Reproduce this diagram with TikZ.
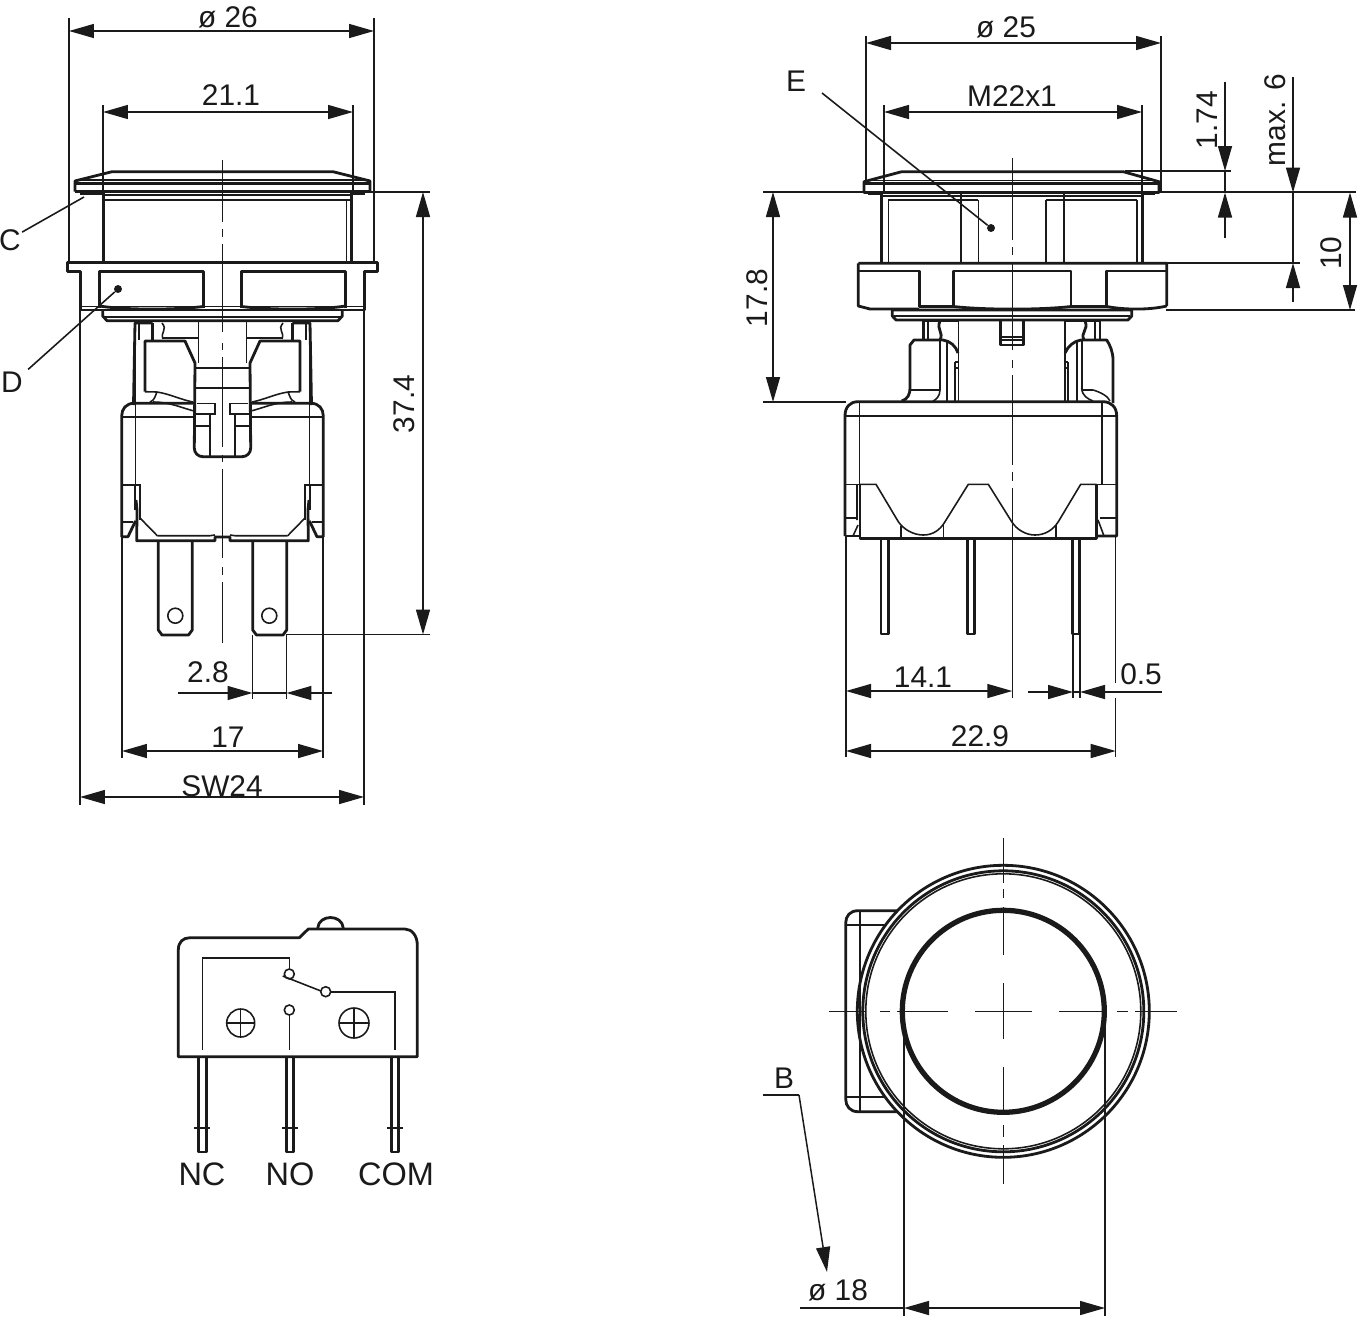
\documentclass[tikz,border=0pt]{standalone}
\usepackage{fontspec}
\setmainfont{Liberation Sans}
\usepackage{xcolor}
\usetikzlibrary{arrows.meta}
\definecolor{ink}{HTML}{1A1A1A}
\tikzset{
  base/.style={draw=ink, line width=1.6pt, line join=round},
  fine/.style={draw=ink, line width=0.9pt},
  heavy/.style={draw=ink, line width=3pt},
  ext/.style={draw=ink, line width=0.85pt},
  dim/.style={draw=ink, line width=0.85pt, {Triangle[length=0.5cm,width=0.28cm]}-{Triangle[length=0.5cm,width=0.28cm]}},
  tip/.style={draw=ink, line width=0.85pt, -{Triangle[length=0.5cm,width=0.28cm]}},
  lab/.style={text=ink, font=\fontsize{17}{19}\selectfont, inner sep=0pt},
  labv/.style={lab, rotate=90},
  labt/.style={text=ink, font=\fontsize{18.5}{20}\selectfont, inner sep=0pt},
  dot/.style={circle, fill=ink, inner sep=1.6pt},
}
% half of the side view, mirrored about its axis
\newcommand{\sidehalf}{
  \draw[base] (75,191.5)--(75,181)--(112,171.7)--(222.5,171.7);
  \draw[fine] (80,180)--(222.5,180);
  \draw[base] (75,183.5)--(222.5,183.5);
  \draw[base] (75,191.5)--(222.5,191.5);
  \draw[base] (222.5,262.7)--(67.3,262.7)--(67.3,271.7)--(80.7,271.7)--(80.7,310)--(222.5,310);
  \draw[base] (99.3,308)--(99.3,271.5)--(203.3,271.5)--(203.3,308);
  \draw[fine] (80.7,306.7)--(222.5,306.7);
  \draw[base] (99.3,306) .. controls (125,310) and (175,310) .. (203.3,306.5);
  \draw[base] (102.7,311)--(102.7,316)--(107,320.7)--(222.5,320.7);
  \draw[fine] (105,316.7)--(222.5,316.7);
  \draw[base] (133.5,405)--(135,323)--(152.7,323);
  \draw[base] (152.7,323)--(152.7,340);
  \draw[fine] (139,323)--(139,340);
  \draw[fine] (162,323) .. controls (168,330) and (160,332) .. (163,339);
  \draw[base] (163,338)--(198.3,338);
  \draw[fine] (198.3,322)--(198.3,363);
  \draw[base] (145,391.7)--(145,341)--(185,341)--(195,363)--(194.3,448)
     .. controls (194.3,453) and (198,456.7) .. (203,456.7)--(222.5,456.7);
  \draw[fine] (195,368)--(222.5,368) (195,388)--(222.5,388);
  \draw[fine] (145,391.7) -- (157,392) .. controls (170,394) and (182,400) .. (193,402);
  \draw[fine] (153,402) .. controls (170,402) and (182,408) .. (193,410.7);
  \draw[fine] (157,392) .. controls (155,396) and (155,400) .. (150,402);
  \draw[base] (121.7,537)--(121.7,416) .. controls (121.7,409) and (126,403.3) .. (134,403.3)--(194,403.3);
  \draw[fine] (121.7,416.7)--(194,416.7);
  \draw[fine] (197,403.3)--(215,403.3)--(215,414)--(195,414);
  \draw[fine] (210,414)--(210,456) (195,426)--(210,426);
  \draw[fine] (135.7,323)--(135.7,485);
  \draw[fine] (121.7,485)--(140,485)--(140,520) (135,485)--(135,510) (121.7,521.7)--(133,521.7);
  \draw[base] (136,500)--(137,510)--(136.7,540.7)--(215,540.7)--(215,537)--(222.5,537);
  \draw[base] (135.5,521)--(128,536.7)--(121.7,536.7);
  \draw[fine] (140,518)--(157.3,535.7);
  \draw[fine] (157.3,535.7)--(210,535.7)--(215,535);
}
\begin{document}
\begin{tikzpicture}[x=0.02cm,y=-0.02cm]
  \useasboundingbox (0,0) rectangle (1369,1326);
  % side view
  \sidehalf
  \begin{scope}[shift={(445,0)},xscale=-1]
    \sidehalf
  \end{scope}
  \draw[heavy,line width=2.2pt] (80,193)--(103,193) (351.7,193)--(365,193);
  \draw[fine] (103,195)--(351.7,195) (103,200)--(351.7,200);
  \draw[base] (103.3,192)--(103.3,262.7) (351.7,192)--(351.7,262.7);
  \draw[fine] (346.7,200)--(346.7,262.7);
  \foreach \a/\b in {160/222,229/237,244/332,343/350,357/447,455/462,469/558,567/575,582/643}
    \draw[fine] (222.3,\a)--(222.3,\b);
  \draw[base] (158.3,541)--(158.3,630)--(162,635)--(188.5,635)--(192.3,630)--(192.3,541);
  \draw[base] (252.7,541)--(252.7,630)--(256.5,635)--(283,635)--(286.7,630)--(286.7,541);
  \draw[fine] (175.3,615.7) circle (7.5) (269.3,615.7) circle (7.5);
  % side view dimensions
  \draw[ext] (69,18)--(69,262) (374,18)--(374,262);
  \draw[ext] (103,105)--(103,192) (353,105)--(353,192);
  \draw[ext] (80,272)--(80,805) (364,272)--(364,805);
  \draw[ext] (122,537)--(122,758) (323,537)--(323,758);
  \draw[ext] (252.5,635)--(252.5,699) (286.5,635)--(286.5,699);
  \draw[ext] (351,192)--(430,192) (286,634.5)--(430,634.5);
  \draw[dim] (69,31)--(374,31);
  \draw[dim] (103,112)--(353,112);
  \draw[dim] (80,797)--(364,797);
  \draw[dim] (122,751)--(323,751);
  \draw[dim] (423,192)--(423,634.5);
  \draw[tip] (178,693)--(252.5,693);
  \draw[tip] (332,693)--(286.5,693);
  \draw[ext] (252.5,693)--(286.5,693);
  \node[lab] (d26) at (228,17) {ø 26};
  \node[lab] (d211) at (231,95) {21.1};
  \node[lab] (dSW) at (222,786) {SW24};
  \node[lab] (d17) at (228,737) {17};
  \node[lab] (d28) at (208,672) {2.8};
  \node[labv] (d374) at (404,404) {37.4};
  \node[lab] (labC) at (10,240) {C};
  \node[lab] (labD) at (12,382) {D};
  \node[dot] (ptD) at (118,289) {};
  \coordinate (ptC) at (84,197);
  \draw[fine] (labC.north east)++(1,3) -- (ptC);
  \draw[fine] (labD.north east)++(5,-2) -- (ptD);
  % end view
  \draw[base] (1003.3,1011.3) circle (146);
  \draw[base] (1003.3,1011.3) circle (140.5);
  \draw[fine] (1003.3,1011.3) circle (137.5);
  \draw[heavy] (1003.3,1011.3) circle (101);
  \draw[base] (897.5,910.7)--(858,910.7) .. controls (850,910.7) and (845.7,916) .. (845.7,923)
     --(845.7,1099) .. controls (845.7,1106) and (850,1111.7) .. (858,1111.7)--(897.5,1111.7);
  \draw[fine] (860,910.7)--(860,1111.7) (845.7,925)--(885,925) (845.7,1097)--(885,1097);
  \foreach \a/\b in {829/865,880/890,897/948,975/1032,1059/1107,1117/1128,1135/1177}
    \draw[fine] (\a,1011.3)--(\b,1011.3);
  \foreach \a/\b in {838/883,889/898,907/955,983/1039,1067/1115,1125/1137,1145/1184}
    \draw[fine] (1003.3,\a)--(1003.3,\b);
  \draw[ext] (904,1012)--(904,1316) (1105,1012)--(1105,1316);
  \draw[ext] (800,1308)--(904,1308);
  \draw[dim] (904,1308)--(1105,1308);
  \node[lab] (d18) at (838,1290) {ø 18};
  \node[lab] (labB) at (784,1078) {B};
  \coordinate (bendB) at (799,1095);
  \coordinate (ptB) at (827,1272);
  \draw[ext] (763,1095)--(bendB);
  \draw[tip] (bendB)--(ptB);
  % switch symbol
  \draw[base] (178.3,1056.7)--(178.3,950) .. controls (178.3,942) and (183,937.7) .. (190,937.7)
     --(299.3,937.7)--(308.3,929)--(405,929) .. controls (412,929) and (417.3,936) .. (417.3,945)
     --(417.3,1056.7)--cycle;
  \draw[base] (317.7,928) .. controls (319,914) and (342,914) .. (343.3,928);
  \draw[fine] (202.3,1050)--(202.3,957.7)--(289.3,957.7)--(289.3,969);
  \draw[fine] (282.7,976)--(321,991);
  \draw[fine] (330.7,991.7)--(395,991.7)--(395,1050);
  \draw[fine] (289.3,1015)--(289.3,1050);
  \draw[fine] (289.3,974) circle (5) (325.7,991.7) circle (5) (289.3,1010) circle (5);
  \foreach \cx/\rr in {240.7/14, 354/15}{
    \draw[fine] (\cx,1023) circle (\rr);
    \draw[fine] (\cx-\rr,1023)--(\cx+\rr,1023) (\cx,1023-\rr)--(\cx,1023+\rr);
  }
  \foreach \cx in {202.3,290,395}{
    \draw[base] (\cx-3.8,1057)--(\cx-3.8,1152)--(\cx+3.8,1152)--(\cx+3.8,1057);
    \draw[fine] (\cx-8,1127.7)--(\cx+8,1127.7);
  }
  \node[labt] (labNC) at (202,1174) {NC};
  \node[labt] (labNO) at (290,1174) {NO};
  \node[labt] (labCOM) at (396,1174) {COM};
  % front view, cap and collar
  \draw[base] (864,192.5)--(864,181.7)--(901.7,171.7)--(1123.3,171.7)--(1159,181.7)--(1159,192.5)--cycle;
  \draw[fine] (866,180.7)--(1157,180.7);
  \draw[base] (864,183.5)--(1159,183.5);
  \draw[heavy,line width=2.2pt] (868,193.5)--(881.7,193.5) (1142.7,193.5)--(1155,193.5);
  \draw[base] (881.7,193)--(881.7,261.7) (1142.7,193)--(1142.7,261.7);
  \draw[fine] (888.3,200)--(888.3,261.7) (1136.7,200)--(1136.7,261.7);
  \draw[fine] (881.7,196)--(1142.7,196) (888.3,200)--(978.3,200) (1046,200)--(1136.7,200);
  \draw[fine] (960.7,193)--(960.7,261.7) (978.3,200)--(978.3,261.7);
  \draw[fine] (1046,200)--(1046,261.7) (1064,193)--(1064,261.7);
  \draw[base] (858.3,263.3)--(1166.7,263.3)--(1166.7,306) (858.3,263.3)--(858.3,306)--(870,309)--(919,309);
  \draw[base] (858.3,271)--(919.3,271)--(919.3,307);
  \draw[base] (953.3,307)--(953.3,271)--(1071,271)--(1071,307);
  \draw[base] (1166.7,271)--(1106.7,271)--(1106.7,307);
  \draw[base] (919,306.7)--(953.3,306.7) (1071,306.7)--(1106.7,306.7);
  \draw[base] (953.3,306.5) .. controls (985,310) and (1040,310) .. (1071,306.5);
  \draw[base] (1106.7,306.5) .. controls (1125,310) and (1150,310) .. (1166.7,306);
  \draw[base] (892.3,310)--(1131.7,310)--(1131.7,316)--(1128,320)--(896,320)--(892.3,316)--cycle;
  \draw[fine] (894,316)--(1130,316);
  % front view, lower parts
  \draw[base] (923.3,340)--(923.3,321)--(958.3,321) (1065,321)--(1100,321)--(1100,340);
  \draw[fine] (928,321)--(928,340) (1095,321)--(1095,340);
  \draw[base] (940,321) .. controls (936,330) and (944,332) .. (940,340);
  \draw[base] (1085,321) .. controls (1089,330) and (1080,332) .. (1084,340);
  \draw[fine] (958.3,321)--(958.3,401) (1065,321)--(1065,401);
  \draw[base] (901.7,401) .. controls (908,399) and (910,394) .. (910,388)--(910,345)--(914,340)--(943,340)
     .. controls (950,341) and (956,346) .. (958,353);
  \draw[base] (1065,353) .. controls (1068,346) and (1074,341) .. (1081,340)--(1106.7,340)
     .. controls (1110,345) and (1113,352) .. (1113,360)--(1113,403);
  \draw[fine] (910,390)--(940,390) .. controls (940,396) and (936,400) .. (933,401);
  \draw[fine] (1081.7,388) .. controls (1082,396) and (1088,399) .. (1093,401);
  \draw[fine] (1093,390) .. controls (1100,392) and (1108,396) .. (1110,401);
  \draw[fine] (1081.7,390)--(1093,390);
  \draw[fine] (940,340)--(940,390) (946.7,341)--(946.7,401) (955,362)--(958.3,362) (955,368)--(958.3,368) (955,362)--(955,401);
  \draw[fine] (1068,362)--(1068,401) (1065,362)--(1068,362) (1065,368)--(1068,368) (1076.7,341)--(1076.7,401) (1081.7,341)--(1081.7,390);
  \draw[base] (1000.7,321)--(1000.7,345)--(1023.3,345)--(1023.3,321);
  \draw[fine] (1000.7,336.7)--(1023.3,336.7) (1000.7,340)--(1023.3,340);
  % front view, switch body
  \draw[base] (845,536)--(845,416) .. controls (845,407) and (850,401.7) .. (858,401.7)--(1103,401.7)
     .. controls (1111,401.7) and (1116.7,407) .. (1116.7,416)--(1116.7,536)--(1097,536);
  \draw[base] (845,536)--(860,536);
  \draw[fine] (845,415.7)--(1116.7,415.7);
  \draw[fine] (859.3,402)--(859.3,484) (1101.7,402)--(1101.7,484);
  \draw[fine] (845,484.3)--(860,484.3) (1097,484.3)--(1116.7,484.3) (845,517.7)--(858,517.7) (1100,517.7)--(1116.7,517.7);
  \draw[fine] (857,484)--(857,520) (858,525)--(853,536) (1098,520)--(1104,536);
  \draw[base] (860,484.3)--(860,538.3)--(1096.7,538.3)--(1096.7,484.3);
  \draw[fine] (860,484.3)--(876,484.3)--(898.3,521.7) .. controls (904,530) and (914,535) .. (923.3,535)
     .. controls (933,535) and (940,530) .. (945,521.7)--(968.3,484.3)--(988.3,484.3)--(1011.7,521.7)
     .. controls (1017,530) and (1026,535) .. (1035,535) .. controls (1045,535) and (1053,530) .. (1058.3,521.7)
     --(1080.7,484.3)--(1096.7,484.3);
  \draw[fine] (901,526)--(901,538) (943.3,524)--(943.3,538) (1055.7,525)--(1055.7,538);
  \foreach \px in {884.5,970.7,1075.8}
    \draw[base] (\px-3.6,539)--(\px-3.6,634)--(\px+3.6,634)--(\px+3.6,539);
  \foreach \a/\b in {158/240,247/255,262/350,360/368,375/465,472/481,488/698}
    \draw[fine] (1012.3,\a)--(1012.3,\b);
  % front view dimensions
  \draw[ext] (866,36)--(866,181) (1161,36)--(1161,192);
  \draw[ext] (884,105)--(884,193) (1142,105)--(1142,193);
  \draw[ext] (763,192)--(881,192) (1160,192)--(1356,192);
  \draw[ext] (763,402)--(846,402);
  \draw[ext] (1125,171)--(1231,171);
  \draw[ext] (1167,263)--(1300,263);
  \draw[ext] (1166,310)--(1355,310);
  \draw[ext] (846,537)--(846,757) (1115.7,537)--(1115.7,683) (1115.7,698)--(1115.7,757);
  \draw[ext] (1073,634)--(1073,698) (1080,634)--(1080,698);
  \draw[dim] (866,43)--(1161,43);
  \draw[dim] (884,112)--(1142,112);
  \draw[dim] (773,192)--(773,402);
  \draw[dim] (846,691)--(1012.3,691);
  \draw[dim] (846,751)--(1115.7,751);
  \draw[dim] (1350,192.5)--(1350,310);
  \draw[tip] (1225,82)--(1225,171);
  \draw[tip] (1225,238)--(1225,192.5);
  \draw[ext] (1225,171)--(1225,192.5);
  \draw[tip] (1293,77)--(1293,192.5);
  \draw[tip] (1293,301.7)--(1293,263);
  \draw[ext] (1293,192.5)--(1293,263);
  \draw[tip] (1028,692)--(1073,692);
  \draw[tip] (1162,692)--(1080,692);
  \draw[ext] (1073,692)--(1080,692);
  \node[lab] (d25) at (1006,27) {ø 25};
  \node[lab] (dM22) at (1012,96) {M22x1};
  \node[labv] (d174) at (1207,120) {1.74};
  \node[labv] (dmax) at (1275,120) {max. 6};
  \node[labv] (d10) at (1331,253) {10};
  \node[labv] (d178) at (757,298) {17.8};
  \node[lab] (d141) at (923,677) {14.1};
  \node[lab] (d229) at (980,736) {22.9};
  \node[lab] (d05) at (1141,674) {0.5};
  \node[lab] (labE) at (796,81) {E};
  \node[dot] (ptE) at (991,228) {};
  \coordinate (startE) at (822,93);
  \draw[fine] (startE)--(ptE);
\end{tikzpicture}
\end{document}
